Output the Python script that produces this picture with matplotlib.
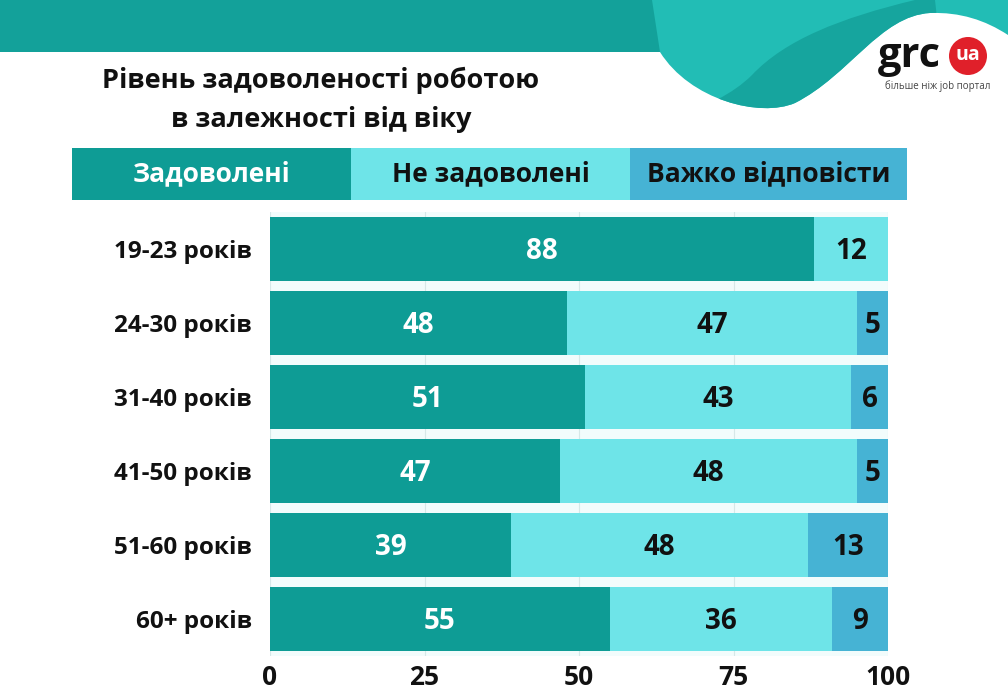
import numpy as np
import matplotlib.pyplot as plt
from matplotlib.path import Path
from matplotlib.patches import PathPatch, Rectangle, Circle

plt.rcParams['font.family'] = ['Open Sans', 'DejaVu Sans']
plt.rcParams['font.weight'] = 'bold'

# Дані
categories = ['19-23 років', '24-30 років', '31-40 років', '41-50 років', '51-60 років', '60+ років']
satisfied = [88, 48, 51, 47, 39, 55]
not_satisfied = [12, 47, 43, 48, 48, 36]
hard_to_say = [0, 5, 6, 5, 13, 9]
series_names = ['Задоволені', 'Не задоволені', 'Важко відповісти']
ticks = [0, 25, 50, 75, 100]

c_dark = '#0e9c95'
c_light = '#6ee4e8'
c_blue = '#46b3d4'
colors = [c_dark, c_light, c_blue]
text_colors = ['white', '#111111', '#111111']

W, H = 1008, 694
fig = plt.figure(figsize=(W / 100, H / 100), dpi=100)

# Фон (координати в пікселях)
bg = fig.add_axes([0, 0, 1, 1], zorder=0)
bg.set_xlim(0, W)
bg.set_ylim(H, 0)
bg.axis('off')

# верхня смуга
bg.add_patch(Rectangle((0, 0), 665, 52, color='#13a19a', lw=0))

# хвиля справа
verts = [(652, 0), (1008, 0), (1008, 35),
         (985, 20), (960, 12), (930, 13),
         (880, 16), (850, 75), (795, 103),
         (760, 118), (690, 100), (660, 52),
         (652, 0)]
codes = [Path.MOVETO, Path.LINETO, Path.LINETO,
         Path.CURVE4, Path.CURVE4, Path.CURVE4,
         Path.CURVE4, Path.CURVE4, Path.CURVE4,
         Path.CURVE4, Path.CURVE4, Path.CURVE4,
         Path.CLOSEPOLY]
wave = PathPatch(Path(verts, codes), facecolor='#22bdb5', lw=0)
bg.add_patch(wave)

band = [(915, 0),
        (840, 18), (785, 40), (752, 75),
        (732, 95), (705, 106), (680, 116),
        (800, 140), (940, 45), (935, 0), (915, 0)]
bcodes = [Path.MOVETO,
          Path.CURVE4, Path.CURVE4, Path.CURVE4,
          Path.CURVE4, Path.CURVE4, Path.CURVE4,
          Path.LINETO, Path.LINETO, Path.LINETO, Path.CLOSEPOLY]
band_patch = PathPatch(Path(band, bcodes), facecolor='#16a59e', lw=0)
bg.add_patch(band_patch)
band_patch.set_clip_path(wave)

# логотип
bg.text(878, 56, 'grc', fontsize=30, fontweight='bold', color='#111111',
        ha='left', va='center')
bg.add_patch(Circle((968, 56), 19, color='#e0202a', lw=0))
bg.text(968, 55, 'ua', fontsize=14, fontweight='bold', color='white',
        ha='center', va='center')
bg.text(938, 86, 'більше ніж job портал', fontsize=7, fontweight='normal',
        color='#444444', ha='center', va='center')

# заголовок
bg.text(321, 80, 'Рівень задоволеності роботою', fontsize=19.5, fontweight='bold',
        color='#111111', ha='center', va='center')
bg.text(321, 119, 'в залежності від віку', fontsize=19.5, fontweight='bold',
        color='#111111', ha='center', va='center')

# легенда
leg_x = [72, 351, 630, 907]
for i, name in enumerate(series_names):
    bg.add_patch(Rectangle((leg_x[i], 148), leg_x[i + 1] - leg_x[i], 52,
                           color=colors[i], lw=0))
    bg.text((leg_x[i] + leg_x[i + 1]) / 2, 174, name, fontsize=19, fontweight='bold',
            color='white' if i == 0 else '#111111', ha='center', va='center')

# Основний графік
ax = fig.add_axes([270 / W, 38 / H, 618 / W, 444 / H], zorder=1)
ax.set_facecolor('#f2fcfc')
y = np.arange(len(categories))
left = np.zeros(len(categories))
for vals, col, tcol in zip([satisfied, not_satisfied, hard_to_say], colors, text_colors):
    vals = np.array(vals, dtype=float)
    ax.barh(y, vals, left=left, height=0.865, color=col, lw=0, zorder=2)
    for yi, l, v in zip(y, left, vals):
        if v > 0:
            ax.text(l + v / 2, yi + 0.04, f'{int(v)}', ha='center', va='center',
                    fontsize=20, fontweight='bold', color=tcol, zorder=3)
    left += vals

ax.set_xlim(0, 100)
ax.set_ylim(len(categories) - 0.5, -0.5)
ax.set_xticks(ticks)
ax.set_xticklabels([str(t) for t in ticks], fontsize=19, fontweight='bold')
ax.set_yticks(y)
ax.set_yticklabels(categories, fontsize=17.5, fontweight='bold')
ax.tick_params(axis='both', length=0, colors='#111111')
ax.tick_params(axis='x', pad=6)
ax.tick_params(axis='y', pad=13)
ax.xaxis.grid(True, color='#d6e8e8', lw=0.8, zorder=1)
ax.set_axisbelow(True)
for s in ax.spines.values():
    s.set_visible(False)

fig.savefig('out.png', dpi=100)
